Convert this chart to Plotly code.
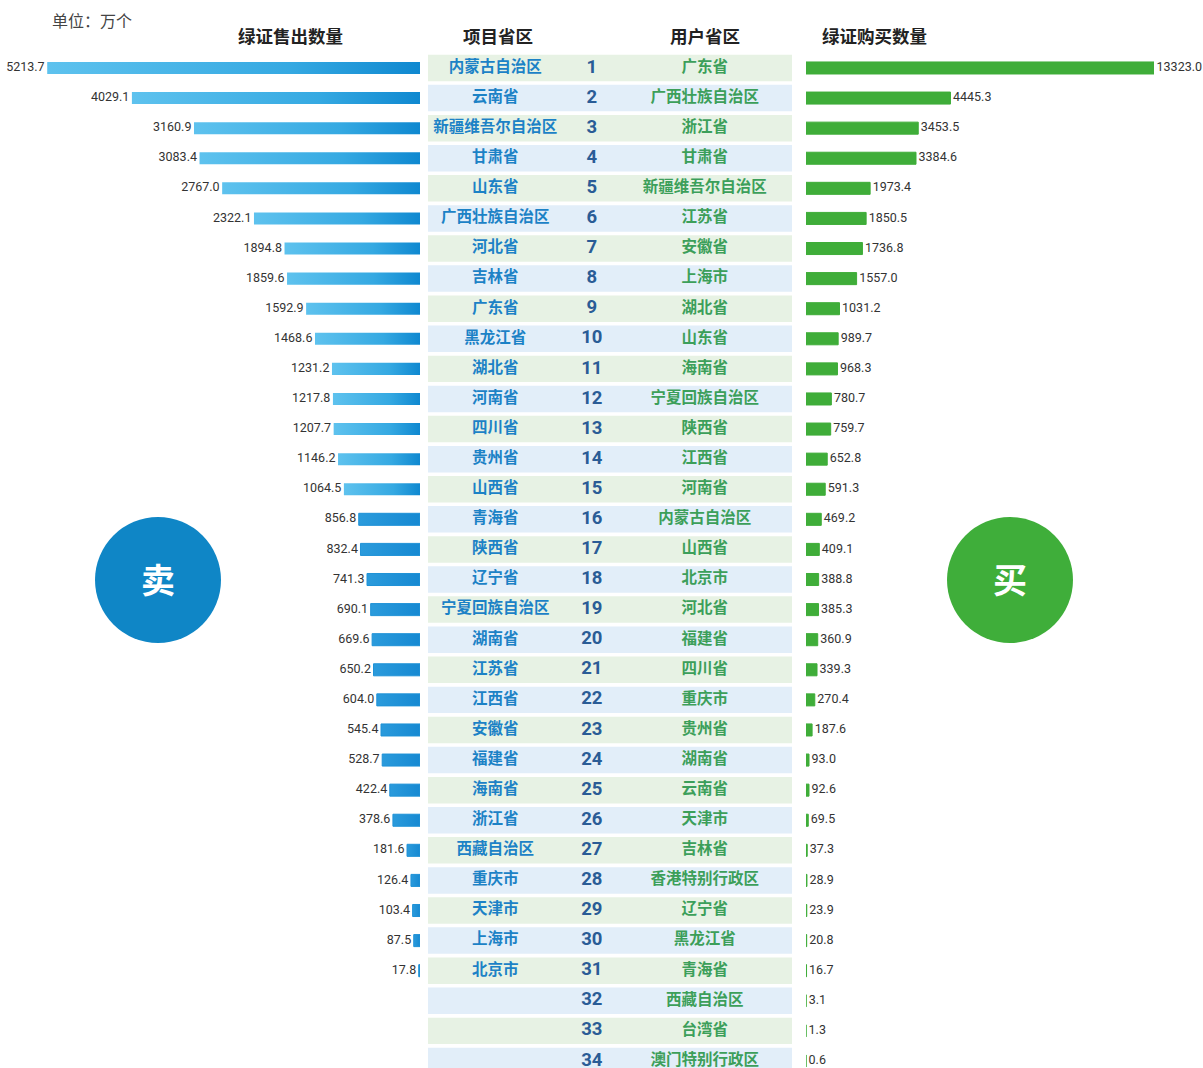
import plotly.graph_objects as go
import numpy as np

# ---- data (万个) ----
ranks = list(range(1, 35))

sell_provinces = [
    "内蒙古自治区", "云南省", "新疆维吾尔自治区", "甘肃省", "山东省", "广西壮族自治区",
    "河北省", "吉林省", "广东省", "黑龙江省", "湖北省", "河南省", "四川省", "贵州省",
    "山西省", "青海省", "陕西省", "辽宁省", "宁夏回族自治区", "湖南省", "江苏省",
    "江西省", "安徽省", "福建省", "海南省", "浙江省", "西藏自治区", "重庆市",
    "天津市", "上海市", "北京市",
]
sell_values = [
    5213.7, 4029.1, 3160.9, 3083.4, 2767.0, 2322.1, 1894.8, 1859.6, 1592.9, 1468.6,
    1231.2, 1217.8, 1207.7, 1146.2, 1064.5, 856.8, 832.4, 741.3, 690.1, 669.6,
    650.2, 604.0, 545.4, 528.7, 422.4, 378.6, 181.6, 126.4, 103.4, 87.5, 17.8,
]

buy_provinces = [
    "广东省", "广西壮族自治区", "浙江省", "甘肃省", "新疆维吾尔自治区", "江苏省",
    "安徽省", "上海市", "湖北省", "山东省", "海南省", "宁夏回族自治区", "陕西省",
    "江西省", "河南省", "内蒙古自治区", "山西省", "北京市", "河北省", "福建省",
    "四川省", "重庆市", "贵州省", "湖南省", "云南省", "天津市", "吉林省",
    "香港特别行政区", "辽宁省", "黑龙江省", "青海省", "西藏自治区", "台湾省",
    "澳门特别行政区",
]
buy_values = [
    13323.0, 4445.3, 3453.5, 3384.6, 1973.4, 1850.5, 1736.8, 1557.0, 1031.2, 989.7,
    968.3, 780.7, 759.7, 652.8, 591.3, 469.2, 409.1, 388.8, 385.3, 360.9,
    339.3, 270.4, 187.6, 93.0, 92.6, 69.5, 37.3, 28.9, 23.9, 20.8,
    16.7, 3.1, 1.3, 0.6,
]

W, H = 1203, 1068
CJK = "Noto Sans CJK SC"
NUM = "Roboto, Liberation Sans, sans-serif"

SELL_MAX = 5874     # left axis extent (reversed)
BUY_MAX = 10708     # right axis extent; the largest bar runs past it and is cut off
BAR_HALF = 0.2

fig = go.Figure()

# ---- centre table: alternating row backgrounds ----
row_colors = ["#e7f2e4" if r % 2 == 1 else "#e2eef9" for r in ranks]
fig.add_trace(go.Bar(
    x=[1] * len(ranks), y=ranks, orientation="h", xaxis="x3", yaxis="y",
    width=0.88, marker=dict(color=row_colors, line=dict(width=0)),
    hoverinfo="skip", showlegend=False,
))

sell_ranks = ranks[:len(sell_values)]
fig.add_trace(go.Scatter(
    x=[0.185] * len(sell_provinces), y=sell_ranks, text=sell_provinces,
    mode="text", xaxis="x3", yaxis="y",
    textfont=dict(family=CJK, size=15.5, color="#1c82c6", weight="bold"),
    hoverinfo="skip", showlegend=False,
))
fig.add_trace(go.Scatter(
    x=[0.45] * len(ranks), y=ranks, text=[str(r) for r in ranks],
    mode="text", xaxis="x3", yaxis="y",
    textfont=dict(family=NUM, size=18.5, color="#2a5c96", weight="bold"),
    hoverinfo="skip", showlegend=False,
))
fig.add_trace(go.Scatter(
    x=[0.76] * len(buy_provinces), y=ranks, text=buy_provinces,
    mode="text", xaxis="x3", yaxis="y",
    textfont=dict(family=CJK, size=15.5, color="#3c9f5a", weight="bold"),
    hoverinfo="skip", showlegend=False,
))

# ---- left: sold quantity, bars with a horizontal blue gradient ----
for r, v in zip(sell_ranks, sell_values):
    poly_x = [0, v, v, 0, 0]
    poly_y = [r - BAR_HALF, r - BAR_HALF, r + BAR_HALF, r + BAR_HALF, r - BAR_HALF]
    if v >= 1000:
        grad = dict(type="horizontal",
                    colorscale=[[0, "#5ec2ee"], [0.65, "#35a9e2"], [1, "#0f88d0"]])
        edge = dict(width=0)
    else:
        grad = dict(type="horizontal",
                    colorscale=[[0, "#2b9bdc"], [1, "#1689d2"]])
        edge = dict(width=1, color="#1f92d7")
    fig.add_trace(go.Scatter(
        x=poly_x, y=poly_y, mode="lines", fill="toself",
        fillgradient=grad, line=edge,
        xaxis="x", yaxis="y", hoverinfo="skip", showlegend=False,
    ))

fig.add_trace(go.Scatter(
    x=sell_values, y=sell_ranks, text=[f"{v:.1f}\u2009" for v in sell_values],
    mode="text", textposition="middle left", xaxis="x", yaxis="y",
    textfont=dict(family=NUM, size=12.5, color="#333333"),
    cliponaxis=False, hoverinfo="skip", showlegend=False,
))

# ---- right: bought quantity ----
fig.add_trace(go.Bar(
    x=buy_values, y=ranks, orientation="h", xaxis="x2", yaxis="y",
    width=0.4, marker=dict(color="#3fad39", line=dict(width=1, color="#3fad39")),
    hoverinfo="skip", showlegend=False,
))
label_x = np.minimum(np.array(buy_values), BUY_MAX)
fig.add_trace(go.Scatter(
    x=label_x, y=ranks, text=[f"\u2009{v:.1f}" for v in buy_values],
    mode="text", textposition="middle right", xaxis="x2", yaxis="y",
    textfont=dict(family=NUM, size=12.5, color="#333333"),
    cliponaxis=False, hoverinfo="skip", showlegend=False,
))

# ---- decorations: 卖 / 买 badges ----
shapes = [
    dict(type="circle", xref="paper", yref="paper",
         x0=95 / W, x1=221 / W, y0=1 - 643 / H, y1=1 - 517 / H,
         fillcolor="#0f86c6", line=dict(width=0), layer="below"),
    dict(type="circle", xref="paper", yref="paper",
         x0=947 / W, x1=1073 / W, y0=1 - 643 / H, y1=1 - 517 / H,
         fillcolor="#3fae3a", line=dict(width=0), layer="below"),
]

annotations = [
    dict(text="卖", x=158 / W, y=1 - 578 / H, xref="paper", yref="paper",
         xanchor="center", yanchor="middle", showarrow=False,
         font=dict(family=CJK, size=34, color="white", weight="bold")),
    dict(text="买", x=1010 / W, y=1 - 578 / H, xref="paper", yref="paper",
         xanchor="center", yanchor="middle", showarrow=False,
         font=dict(family=CJK, size=34, color="white", weight="bold")),
    dict(text="单位：万个", x=50 / W, y=1 - 20 / H, xref="paper", yref="paper",
         xanchor="left", yanchor="middle", showarrow=False,
         font=dict(family=CJK, size=16, color="#444444")),
]
for label, cx in [("绿证售出数量", 290), ("项目省区", 498), ("用户省区", 705), ("绿证购买数量", 874)]:
    annotations.append(dict(
        text=label, x=cx / W, y=1 - 35 / H, xref="paper", yref="paper",
        xanchor="center", yanchor="middle", showarrow=False,
        font=dict(family=CJK, size=17.5, color="#222222", weight="bold"),
    ))

fig.update_layout(
    width=W, height=H,
    margin=dict(l=0, r=0, t=0, b=0),
    paper_bgcolor="white", plot_bgcolor="rgba(0,0,0,0)",
    showlegend=False,
    xaxis=dict(domain=[0, 420 / W], range=[SELL_MAX, 0], visible=False, fixedrange=True),
    xaxis2=dict(domain=[806 / W, 1154 / W], range=[0, BUY_MAX], visible=False,
                anchor="y", fixedrange=True),
    xaxis3=dict(domain=[428 / W, 792 / W], range=[0, 1], visible=False,
                anchor="y", fixedrange=True),
    yaxis=dict(range=[34.234, -1.259], visible=False, fixedrange=True),
    shapes=shapes,
    annotations=annotations,
)

fig.write_html("out.html")
